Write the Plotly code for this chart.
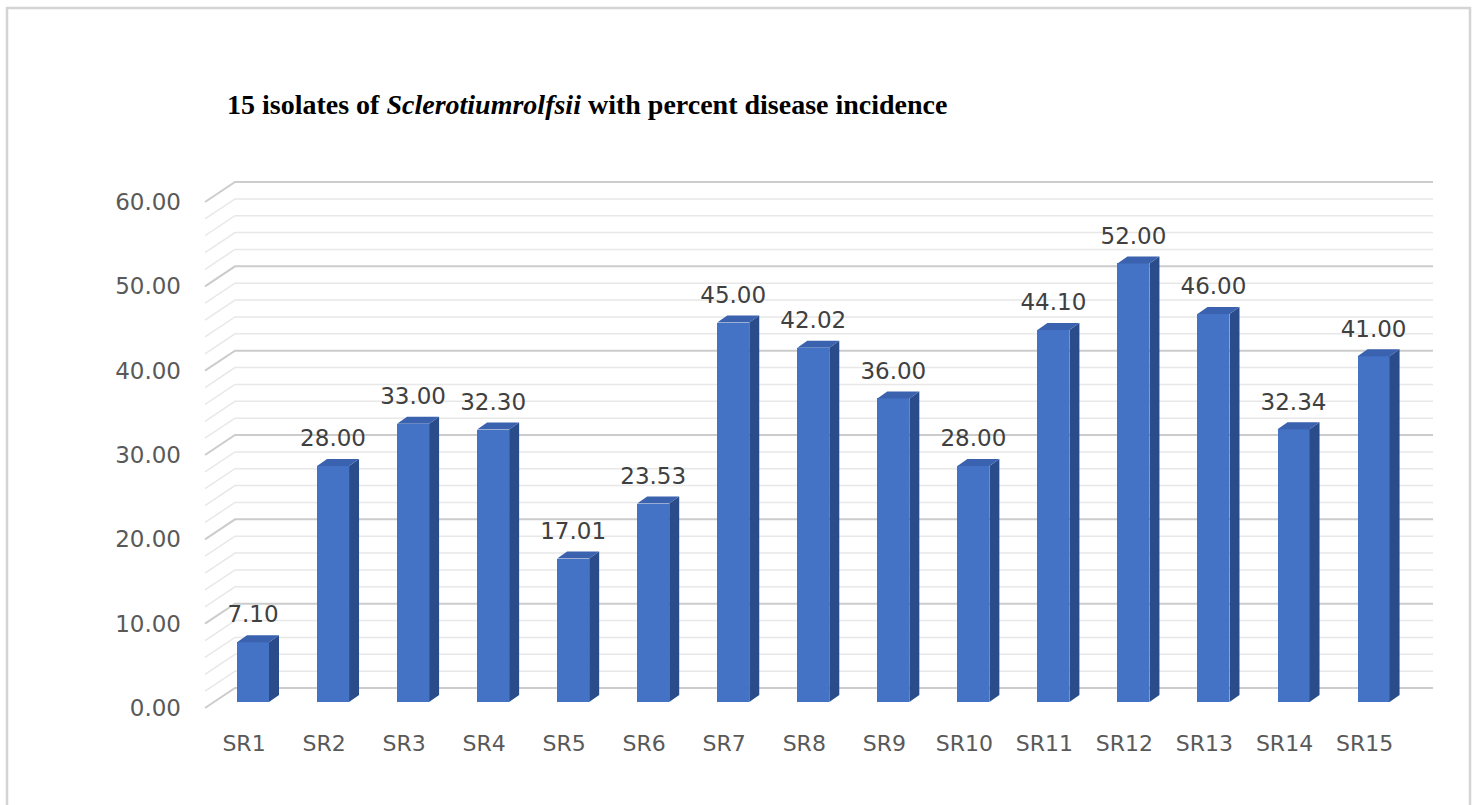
import plotly.graph_objects as go

# Data
categories = ["SR1", "SR2", "SR3", "SR4", "SR5", "SR6", "SR7", "SR8",
              "SR9", "SR10", "SR11", "SR12", "SR13", "SR14", "SR15"]
incidence = [7.10, 28.00, 33.00, 32.30, 17.01, 23.53, 45.00, 42.02,
             36.00, 28.00, 44.10, 52.00, 46.00, 32.34, 41.00]
y_ticks = [0, 10, 20, 30, 40, 50, 60]
minor_step = 2

# Page / plot-area geometry (pixels)
W, H = 1477, 805
L, R, T, B = 186, 1450, 150, 722
X0_PX, PX_PER_X = 253.0, 80.04      # pixel of first category, pixels per category
Y0_PX, PX_PER_Y = 702.0, 8.433      # pixel of value 0 on the bar plane, pixels per unit

def xd(px):
    return (px - X0_PX) / PX_PER_X

def yd_off(px_shift):
    return -px_shift / PX_PER_Y

x_range = [xd(L), xd(R)]
y_range = [(Y0_PX - B) / PX_PER_Y, (Y0_PX - T) / PX_PER_Y]

# 3-D look: front wall plane, back wall plane and bar depth
FRONT_OFF = yd_off(6)      # front edge of the floor sits 6px below bar base
BACK_OFF = yd_off(-14)     # back wall sits 14px above bar base
FRONT_X, BACK_X, RIGHT_X = xd(205), xd(235), xd(1433)
BAR_W = 0.4
DEPTH_X, DEPTH_Y = 10 / PX_PER_X, 7 / PX_PER_Y
LABEL_GAP = 7 / PX_PER_Y

FRONT_C, SIDE_C, TOP_C = "#4472C4", "#2B4C8A", "#3A62AE"

xs = list(range(len(categories)))

fig = go.Figure()

# front faces
fig.add_trace(go.Bar(x=xs, y=incidence, width=BAR_W, marker_color=FRONT_C,
                     marker_line_width=0, hoverinfo="skip", showlegend=False))

# side faces
sx, sy = [], []
for x, v in zip(xs, incidence):
    r = x + BAR_W / 2
    sx += [r, r + DEPTH_X, r + DEPTH_X, r, r, None]
    sy += [0, DEPTH_Y, v + DEPTH_Y, v, 0, None]
fig.add_trace(go.Scatter(x=sx, y=sy, mode="lines", fill="toself", fillcolor=SIDE_C,
                         line=dict(width=0, color=SIDE_C), hoverinfo="skip", showlegend=False))

# top faces
tx, ty = [], []
for x, v in zip(xs, incidence):
    l, r = x - BAR_W / 2, x + BAR_W / 2
    tx += [l, r, r + DEPTH_X, l + DEPTH_X, l, None]
    ty += [v, v, v + DEPTH_Y, v + DEPTH_Y, v, None]
fig.add_trace(go.Scatter(x=tx, y=ty, mode="lines", fill="toself", fillcolor=TOP_C,
                         line=dict(width=0, color=TOP_C), hoverinfo="skip", showlegend=False))

# value labels
fig.add_trace(go.Scatter(x=xs, y=[v + DEPTH_Y + LABEL_GAP for v in incidence], mode="text",
                         text=[f"{v:.2f}" for v in incidence], textposition="top center",
                         textfont=dict(family="DejaVu Sans", size=23, color="#404040"),
                         hoverinfo="skip", showlegend=False))

# wall gridlines (side wall slant + back wall)
shapes = []
for v in range(y_ticks[0], y_ticks[-1] + 1, minor_step):
    major = v % 10 == 0
    color = "#CCCCCC" if major else "#E8E8E8"
    width = 2 if major else 1.5
    path = (f"M {FRONT_X},{v + FRONT_OFF} L {BACK_X},{v + BACK_OFF} "
            f"L {RIGHT_X},{v + BACK_OFF}")
    shapes.append(dict(type="path", path=path, xref="x", yref="y", layer="below",
                       line=dict(color=color, width=width)))

# outer frame
def xp(px):
    return (px - L) / (R - L)

def yp(py):
    return (B - py) / (B - T)

shapes.append(dict(type="rect", xref="paper", yref="paper",
                   x0=xp(7), x1=xp(1470), y0=yp(830), y1=yp(8),
                   line=dict(color="#D4D4D4", width=2.5), layer="below"))

fig.update_layout(
    width=W, height=H,
    margin=dict(l=L, r=W - R, t=T, b=H - B),
    paper_bgcolor="white", plot_bgcolor="white",
    shapes=shapes,
    bargap=0,
    xaxis=dict(range=x_range, tickmode="array",
               tickvals=[x - 9 / PX_PER_X for x in xs], ticktext=categories,
               showgrid=False, zeroline=False, showline=False, ticks="",
               ticklabelstandoff=6,
               tickfont=dict(family="DejaVu Sans", size=22, color="#595959")),
    yaxis=dict(range=y_range, tickmode="array",
               tickvals=[v + FRONT_OFF for v in y_ticks],
               ticktext=[f"{v:.2f}" for v in y_ticks],
               showgrid=False, zeroline=False, showline=False, ticks="",
               ticklabelstandoff=4,
               tickfont=dict(family="DejaVu Sans", size=23, color="#595959")),
    annotations=[dict(
        text="<b>15 isolates of <i>Sclerotiumrolfsii</i> with percent disease incidence</b>",
        xref="paper", yref="paper", x=xp(225), y=yp(105),
        xanchor="left", yanchor="middle", showarrow=False,
        font=dict(family="Liberation Serif", size=28, color="#000000"))],
)

fig.write_html("out.html")
